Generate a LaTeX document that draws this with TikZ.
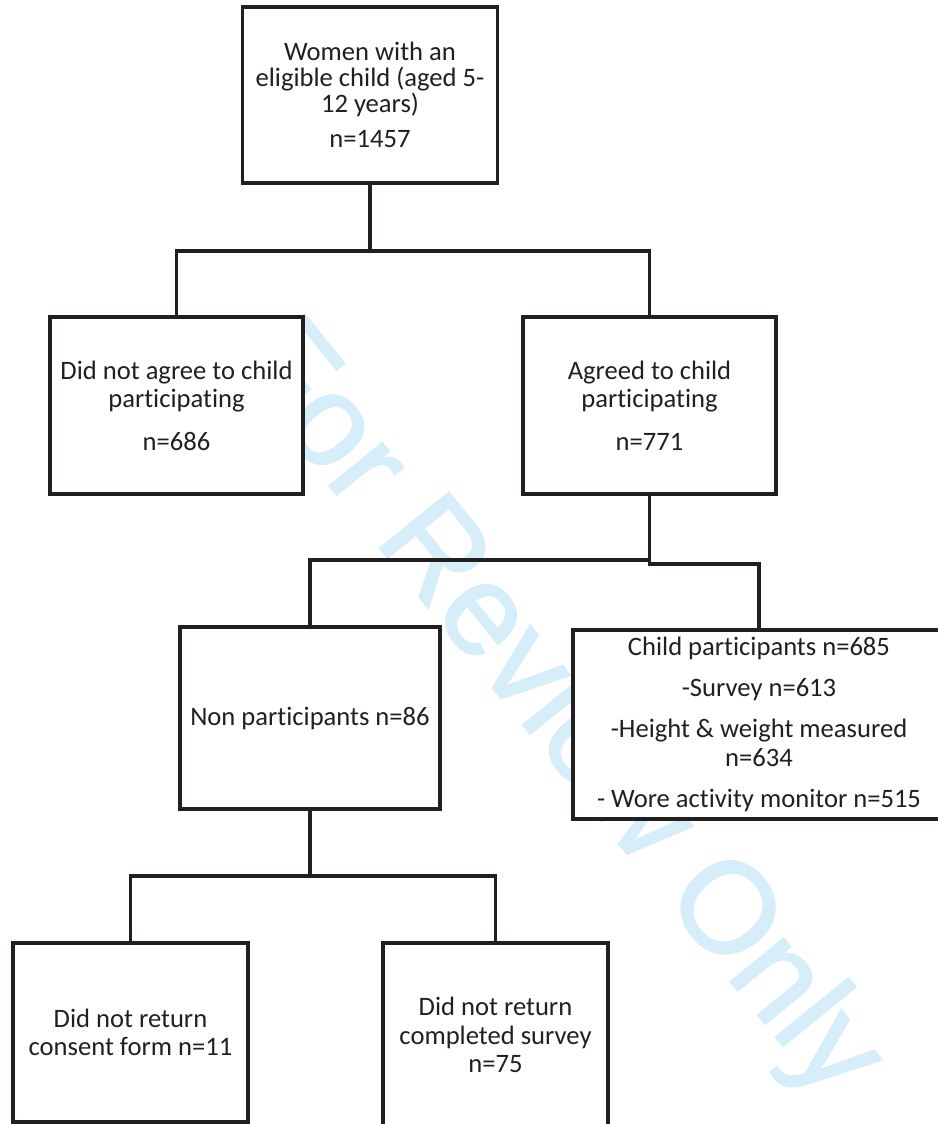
\documentclass[tikz,border=0pt]{standalone}
\usepackage{fontspec}
\setmainfont{Carlito}[Ligatures = NoCommon]
\newfontfamily\wmfont{Liberation Sans}[FakeBold = 1.6]
\usepackage{tikz}
\definecolor{ink}{RGB}{35,31,32}
\definecolor{wmblue}{RGB}{214,238,250}

\begin{document}
\begin{tikzpicture}[x = 1pt, y = -1pt]
	\tikzstyle{every node} = [rectangle, draw = ink, fill = white, line width = 3.6pt, inner sep = 0pt, outer sep = 0pt, align = center, text = ink, font = \fontsize{26.6}{28.5}\selectfont]
\useasboundingbox (0, 0) rectangle (937, 1124);
\fill[white] (0, 0) rectangle (937, 1124);

% watermark
\node[draw = none, fill = none, text = wmblue, font = \wmfont\fontsize{129}{129}\selectfont, anchor = base west, rotate = -51] (wm) at (229, 362) {For Review Only};

\node[minimum width = 255pt, minimum height = 176pt, font = \fontsize{26.6}{26}\selectfont] (0) at (370, 95) {Women with an\\eligible child (aged 5-\\12 years)\\[9pt]n=1457};
\node[minimum width = 253pt, minimum height = 177pt] (1) at (176.5, 405.5) {Did not agree to child\\participating\\[14pt]n=686};
\node[minimum width = 253pt, minimum height = 177pt] (2) at (649.5, 405.5) {Agreed to child\\participating\\[14pt]n=771};
\node[minimum width = 260pt, minimum height = 182pt] (3) at (310, 718) {Non participants n=86};
\node[minimum width = 372pt, minimum height = 189pt] (4) at (759, 724.5) {Child participants n=685\\[12.5pt]-Survey n=613\\[12.5pt]-Height \& weight measured\\n=634\\[12.5pt]- Wore activity monitor n=515};
\node[minimum width = 235pt, minimum height = 179pt] (5) at (130.5, 1032.5) {Did not return\\consent form n=11};
\node[minimum width = 225pt, minimum height = 184pt] (6) at (495.5, 1035) {Did not return\\completed survey\\n=75};

\coordinate (a) at (370, 251);
\coordinate (b) at (649.5, 564);
\coordinate (c) at (649.5, 560);
\coordinate (d) at (310, 876);

	\path[draw, ink, line width = 3.6pt] (0) -- (a);
	\path[draw, ink, line width = 3.6pt] (a) -| (1);
	\path[draw, ink, line width = 3.6pt] (a) -| (2);
	\path[draw, ink, line width = 3.6pt] (2) -- (b) -| (4);
	\path[draw, ink, line width = 3.6pt] (c) -| (3);
	\path[draw, ink, line width = 3.6pt] (3) -- (d);
	\path[draw, ink, line width = 3.6pt] (d) -| (5);
	\path[draw, ink, line width = 3.6pt] (d) -| (6);
	\end{tikzpicture}
\end{document}
